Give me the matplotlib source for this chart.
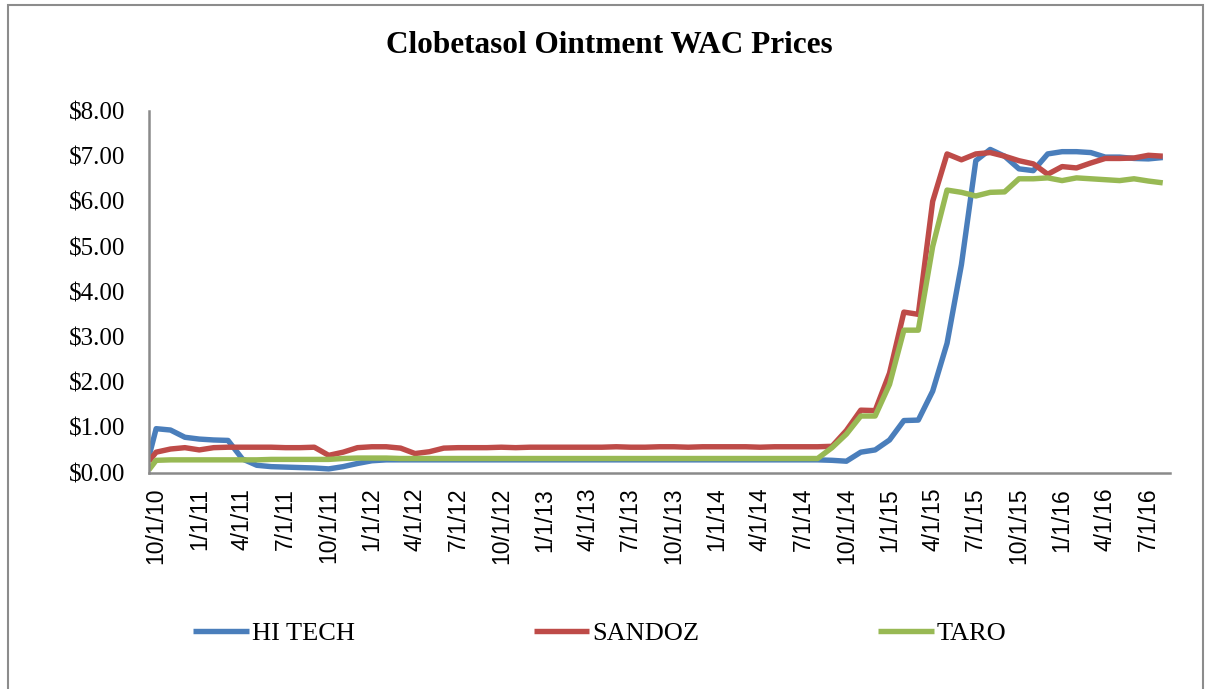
import numpy as np
import matplotlib
matplotlib.use("Agg")
import matplotlib.pyplot as plt
from matplotlib.patches import Rectangle

# Quarterly tick labels (month offsets 0, 3, ..., 69 from 10/1/10)
tick_labels = ['10/1/10', '1/1/11', '4/1/11', '7/1/11', '10/1/11', '1/1/12',
               '4/1/12', '7/1/12', '10/1/12', '1/1/13', '4/1/13', '7/1/13',
               '10/1/13', '1/1/14', '4/1/14', '7/1/14', '10/1/14', '1/1/15',
               '4/1/15', '7/1/15', '10/1/15', '1/1/16', '4/1/16', '7/1/16']

# first value sits half a month before 10/1/10, then one value per month
hi_tech = [0.35,
           0.97, 0.94, 0.78, 0.74, 0.72, 0.71, 0.30, 0.16, 0.13, 0.12,
           0.11, 0.10, 0.08, 0.13, 0.20, 0.26, 0.28, 0.28, 0.28, 0.28,
           0.28, 0.28, 0.28, 0.28, 0.28, 0.28, 0.28, 0.28, 0.28, 0.28,
           0.28, 0.28, 0.28, 0.28, 0.28, 0.28, 0.28, 0.28, 0.28, 0.28,
           0.28, 0.28, 0.28, 0.28, 0.28, 0.28, 0.28, 0.27, 0.25, 0.45,
           0.50, 0.72, 1.15, 1.16, 1.80, 2.86, 4.60, 6.90, 7.15, 7.00,
           6.72, 6.68, 7.05, 7.10, 7.10, 7.08, 6.98, 6.98, 6.95, 6.94,
           6.97]
sandoz = [0.25,
          0.45, 0.52, 0.55, 0.50, 0.55, 0.56, 0.56, 0.56, 0.56, 0.55,
          0.55, 0.56, 0.38, 0.45, 0.55, 0.57, 0.57, 0.54, 0.42, 0.46,
          0.54, 0.55, 0.55, 0.55, 0.56, 0.55, 0.56, 0.56, 0.56, 0.56,
          0.56, 0.56, 0.57, 0.56, 0.56, 0.57, 0.57, 0.56, 0.57, 0.57,
          0.57, 0.57, 0.56, 0.57, 0.57, 0.57, 0.57, 0.58, 0.93, 1.38,
          1.37, 2.20, 3.55, 3.50, 6.00, 7.05, 6.92, 7.05, 7.08, 7.00,
          6.90, 6.83, 6.60, 6.77, 6.74, 6.85, 6.95, 6.95, 6.96, 7.02,
          7.00]
taro = [0.06,
        0.27, 0.28, 0.28, 0.28, 0.28, 0.28, 0.28, 0.28, 0.29, 0.29,
        0.29, 0.29, 0.29, 0.31, 0.32, 0.32, 0.32, 0.31, 0.31, 0.31,
        0.31, 0.31, 0.31, 0.31, 0.31, 0.31, 0.31, 0.31, 0.31, 0.31,
        0.31, 0.31, 0.31, 0.31, 0.31, 0.31, 0.31, 0.31, 0.31, 0.31,
        0.31, 0.31, 0.31, 0.31, 0.31, 0.31, 0.31, 0.55, 0.85, 1.25,
        1.25, 1.95, 3.15, 3.15, 5.00, 6.25, 6.20, 6.12, 6.20, 6.21,
        6.50, 6.50, 6.52, 6.46, 6.52, 6.50, 6.48, 6.46, 6.50, 6.45,
        6.41]

series = [('HI TECH', hi_tech, '#4A7EBB'),
          ('SANDOZ', sandoz, '#BE4B48'),
          ('TARO', taro, '#98B954')]

n_months = len(hi_tech) - 1
x = np.concatenate([[-0.5], np.arange(n_months)])

serif = 'Liberation Serif'
sans = 'Liberation Sans'

fig = plt.figure(figsize=(12.07, 6.89), dpi=100)
ax = fig.add_axes([0.1234, 0.3142, 0.8459, 0.5247])

for name, vals, color in series:
    ax.plot(x, vals, color=color, lw=3.9, label=name,
            solid_joinstyle='round', solid_capstyle='butt')

ax.set_xlim(-0.5, n_months - 0.5)
ax.set_ylim(0, 8)

ax.set_xticks(np.arange(0, 3 * len(tick_labels), 3))
ax.set_xticklabels(tick_labels, rotation=90, fontsize=16.5, family=sans)
ax.set_yticks(np.arange(0, 9))
ax.set_yticklabels(['$%.2f' % v for v in range(9)], fontsize=18, family=serif)
ax.tick_params(axis='x', length=0, pad=11)
ax.tick_params(axis='y', length=0, pad=17)

for side in ['top', 'right']:
    ax.spines[side].set_visible(False)
for side in ['left', 'bottom']:
    ax.spines[side].set_color('#8a8a8a')
    ax.spines[side].set_linewidth(1.8)

fig.text(0.505, 0.934, 'Clobetasol Ointment WAC Prices', ha='center', va='center',
         fontsize=22.5, fontweight='bold', family=serif)

fig.legend(loc='center', bbox_to_anchor=(0.497, 0.081), ncol=3, frameon=False,
           prop={'family': serif, 'size': 19}, handlelength=2.1,
           handletextpad=0.1, columnspacing=6.8)

# outer chart border
fig.patches.append(Rectangle((0.0066, -0.02), 0.9905, 1.0127, transform=fig.transFigure,
                             fill=False, edgecolor='#8c8c8c', lw=1.5))

fig.savefig('out.png', dpi=100)
